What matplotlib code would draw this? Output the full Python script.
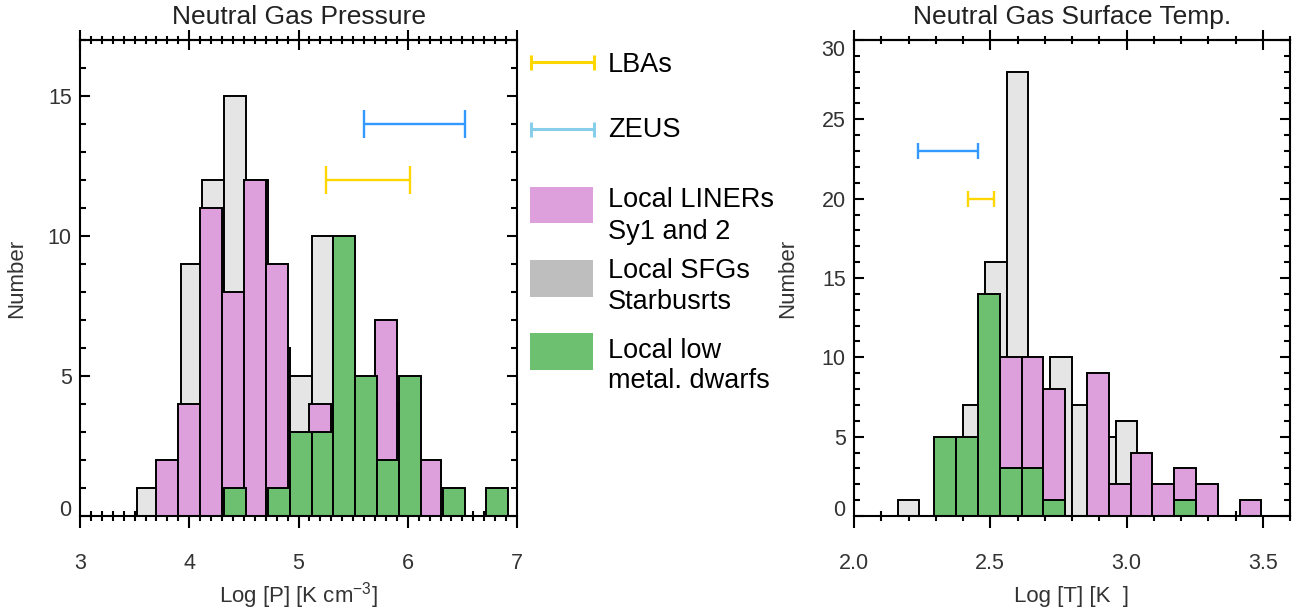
import numpy as np
import matplotlib
matplotlib.use('Agg')
import matplotlib.pyplot as plt
from matplotlib.ticker import MultipleLocator
from matplotlib.patches import Rectangle

plt.rcParams['font.family'] = ['Liberation Sans', 'DejaVu Sans']
plt.rcParams['mathtext.fontset'] = 'custom'
plt.rcParams['mathtext.rm'] = 'Liberation Sans'
plt.rcParams['mathtext.it'] = 'Liberation Sans'
plt.rcParams['mathtext.bf'] = 'Liberation Sans'

# ---------------- data: neutral gas pressure (log P) ----------------
p_bin = 0.2
p_sfg_start = 3.52
p_sfg = [1, 2, 9, 12, 15, 12, 6, 5, 10, 6, 3, 4, 2, 1]
p_liner_start = 3.70
p_liner = [2, 4, 11, 8, 12, 9, 0, 4, 3, 3, 7, 0, 2]
p_dwarf_start = 4.32
p_dwarf = [1, 0, 1, 3, 3, 10, 5, 2, 5, 0, 1, 0, 1]
p_lba = [5.25, 6.02, 12]     # lo, hi, y
p_zeus = [5.60, 6.52, 14]

# ---------------- data: neutral gas surface temperature (log T) ----------------
t_bin = 0.08
t_sfg_start = 2.16
t_sfg = [1, 0, 3, 7, 16, 28, 6, 10, 7, 5, 6, 2]
t_liner_start = 2.295
t_liner = [0, 0, 0, 10, 10, 8, 0, 9, 2, 4, 2, 3, 2, 0, 1]
t_dwarf_start = 2.295
t_dwarf = [5, 5, 14, 3, 3, 1, 0, 0, 0, 0, 0, 1]
t_lba = [2.417, 2.514, 20]
t_zeus = [2.235, 2.455, 23]

titles = ['Neutral Gas Pressure', 'Neutral Gas Surface Temp.']
xlabels = ['Log [P] [K cm$^{-3}$]', 'Log [T] [K  ]']
legend_labels = [['LBAs'], ['ZEUS'], ['Local LINERs', 'Sy1 and 2'],
                 ['Local SFGs', 'Starbusrts'], ['Local low', 'metal. dwarfs']]

C_SFG = '#e5e5e5'
C_SFG_LEG = '#bebebe'
C_LINER = '#dda0dd'
C_DWARF = '#6cc070'
C_LBA = '#ffd700'
C_ZEUS = '#3399ff'
C_ZEUS_LEG = '#87ceeb'
TXT = '#333333'

W, H = 1304, 614
fig = plt.figure(figsize=(W / 100, H / 100), dpi=100)
ax1 = fig.add_axes([80 / W, 98 / H, 437 / W, 476 / H])
ax2 = fig.add_axes([854 / W, 98 / H, 436 / W, 476 / H])


def hist(ax, start, width, counts, color):
    counts = np.asarray(counts, dtype=float)
    left = start + width * np.arange(len(counts))
    m = counts > 0
    ax.bar(left[m], counts[m], width=width, align='edge', color=color,
           edgecolor='black', linewidth=1.4, zorder=2)


def ebar(ax, rng, color, capsize):
    lo, hi, y = rng
    c = (lo + hi) / 2
    ax.errorbar([c], [y], xerr=[[c - lo], [hi - c]], fmt='none', ecolor=color,
                elinewidth=1.7, capsize=capsize, capthick=1.7, zorder=3)


def style(ax, xlim, ylim, xmaj, ymaj, title, xlabel, ylab_x):
    ax.set_xlim(*xlim)
    ax.set_ylim(*ylim)
    ax.xaxis.set_major_locator(MultipleLocator(xmaj))
    ax.xaxis.set_minor_locator(MultipleLocator(0.1))
    ax.yaxis.set_major_locator(MultipleLocator(ymaj))
    ax.yaxis.set_minor_locator(MultipleLocator(1))
    for s in ax.spines.values():
        s.set_linewidth(1.5)
    ax.tick_params(axis='x', which='major', direction='out', length=8.6, width=1.5,
                   pad=18, labelsize=15.5, labelcolor=TXT, top=False, bottom=True)
    ax.tick_params(axis='x', which='minor', direction='inout', length=7, width=1.5,
                   top=False, bottom=True)
    ax.tick_params(axis='y', which='major', direction='in', length=7.2, width=1.5,
                   left=True, right=True, pad=6, labelsize=15.5, labelcolor=TXT)
    ax.tick_params(axis='y', which='minor', direction='in', length=4, width=1.5,
                   left=True, right=True)
    sec = ax.secondary_xaxis('top')
    sec.xaxis.set_major_locator(MultipleLocator(xmaj))
    sec.xaxis.set_minor_locator(MultipleLocator(0.1))
    sec.tick_params(which='major', direction='inout', length=14.4, width=1.5, labeltop=False)
    sec.tick_params(which='minor', direction='inout', length=6, width=1.5)
    sec.spines['top'].set_linewidth(1.5)
    ax.set_title(title, fontsize=19, color='#222222', pad=11.5)
    ax.set_xlabel(xlabel, fontsize=16, color=TXT)
    ax.xaxis.set_label_coords(0.5, -0.1807)
    ax.xaxis.label.set_va('baseline')
    ax.set_ylabel('Number', fontsize=16, color=TXT)
    ax.yaxis.set_label_coords(ylab_x, 0.5)
    ax.yaxis.label.set_va('center')


# left panel
hist(ax1, p_sfg_start, p_bin, p_sfg, C_SFG)
hist(ax1, p_liner_start, p_bin, p_liner, C_LINER)
hist(ax1, p_dwarf_start, p_bin, p_dwarf, C_DWARF)
ebar(ax1, p_zeus, C_ZEUS, 10.1)
ebar(ax1, p_lba, C_LBA, 10.1)
style(ax1, (3, 7), (0, 17), 1, 5, titles[0], xlabels[0], (17 - 80) / 437)

# right panel
hist(ax2, t_sfg_start, t_bin, t_sfg, C_SFG)
hist(ax2, t_liner_start, t_bin, t_liner, C_LINER)
hist(ax2, t_dwarf_start, t_bin, t_dwarf, C_DWARF)
ebar(ax2, t_zeus, C_ZEUS, 5.65)
ebar(ax2, t_lba, C_LBA, 5.65)
style(ax2, (2.0, 3.6), (0, 30), 0.5, 5, titles[1], xlabels[1], (788 - 854) / 436)
ax2.set_xticks([2.0, 2.5, 3.0, 3.5])
ax2.set_xticklabels(['2.0', '2.5', '3.0', '3.5'])

# y tick label vertical alignment tweaks (IDL-like)
ax1.set_yticks([0, 5, 10, 15])
ax2.set_yticks([0, 5, 10, 15, 20, 25, 30])
ax1.get_yticklabels()[0].set_va('baseline')
ax2.get_yticklabels()[0].set_va('baseline')
ax2.get_yticklabels()[-1].set_va('top')

# ---------------- legend (between panels, pixel coordinates) ----------------
lax = fig.add_axes([0, 0, 1, 1])
lax.set_xlim(0, W)
lax.set_ylim(H, 0)
lax.axis('off')
for yy, col in [(62.3, C_LBA), (129.3, C_ZEUS_LEG)]:
    lax.errorbar([562.5], [yy], xerr=[[31.5], [31.5]], fmt='none', ecolor=col,
                 elinewidth=2.2, capsize=5.4, capthick=2.2)
for (y0, h), col in zip([(186.7, 36.6), (260.0, 36.7), (332.7, 37.3)],
                        [C_LINER, C_SFG_LEG, C_DWARF]):
    lax.add_patch(Rectangle((530, y0), 63, h, facecolor=col, edgecolor='none'))
baselines = [[71.7], [136.7], [206.7, 239.0], [278.3, 309.0], [357.7, 388.3]]
for labs, bls in zip(legend_labels, baselines):
    for lab, bl in zip(labs, bls):
        lax.text(608, bl, lab, fontsize=19.5, color='black', ha='left', va='baseline')

fig.savefig('out.png', dpi=100)
